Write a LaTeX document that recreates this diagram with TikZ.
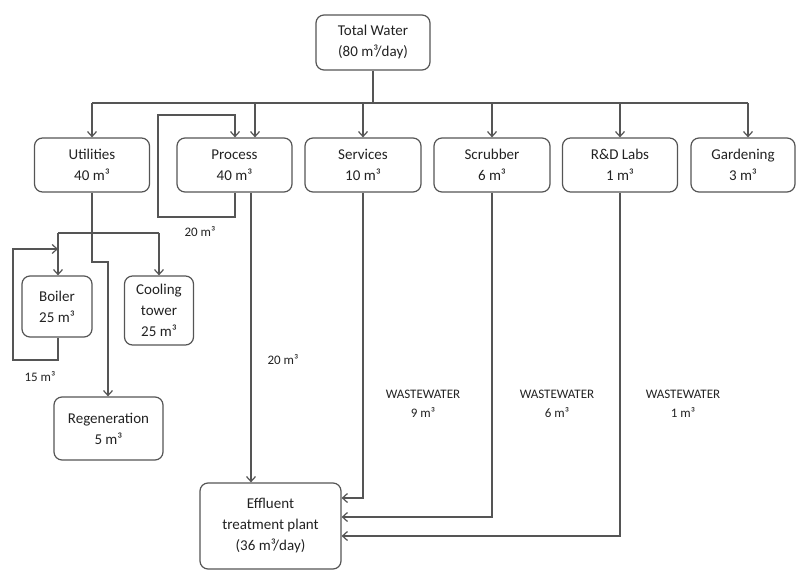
\documentclass[tikz,border=0pt]{standalone}
\usepackage{fontspec}
\setmainfont{Carlito}
\usetikzlibrary{arrows.meta}

\definecolor{linegray}{HTML}{555555}
\definecolor{textgray}{HTML}{222222}

\begin{document}
\begin{tikzpicture}[x=1pt, y=-1pt,
  box/.style={draw=linegray, rounded corners=8pt, line width=1.2pt, align=center,
    font=\fontsize{15}{21}\selectfont, text=textgray, inner sep=0pt},
  pipe/.style={draw=linegray, line width=1.2pt},
  flow/.style={pipe, -{Straight Barb[length=5pt,width=9pt]}},
  tag/.style={align=center, font=\fontsize{13}{19}\selectfont, text=textgray}]
      \useasboundingbox (0,0) rectangle (796,572);

      % boxes
      \node [box, minimum width=114, minimum height=55] (total) at (373,42.5) {Total Water\\(80 m³/day)};
      \node [box, minimum width=115, minimum height=54] (util) at (92,165) {Utilities\\40 m³};
      \node [box, minimum width=115, minimum height=54] (proc) at (234.5,165) {Process\\40 m³};
      \node [box, minimum width=116, minimum height=54] (serv) at (363,165) {Services\\10 m³};
      \node [box, minimum width=116, minimum height=54] (scrub) at (492,165) {Scrubber\\6 m³};
      \node [box, minimum width=115, minimum height=54] (rnd) at (620,165) {R\&D Labs\\1 m³};
      \node [box, minimum width=104, minimum height=54] (garden) at (743,165) {Gardening\\3 m³};
      \node [box, minimum width=70, minimum height=61] (boiler) at (57,306.5) {Boiler\\25 m³};
      \node [box, minimum width=69, minimum height=69] (cool) at (159,310.5) {Cooling\\tower\\25 m³};
      \node [box, minimum width=109, minimum height=63] (regen) at (108.5,428.5) {Regeneration\\5 m³};
      \node [box, minimum width=141, minimum height=86] (etp) at (270.5,526) {Effluent\\treatment plant\\(36 m³/day)};

      % supply
      \coordinate (busL) at (92,103);
      \coordinate (busR) at (748,103);
      \coordinate (procIn) at (255,103);
      \draw [pipe] (total.south) -- (total.south |- busL);
      \draw [pipe] (busL) -- (busR);
      \draw [flow] (busL) -- (busL |- util.north);
      \draw [flow] (procIn) -- (procIn |- proc.north);
      \draw [flow] (serv.north |- busL) -- (serv.north);
      \draw [flow] (scrub.north |- busL) -- (scrub.north);
      \draw [flow] (rnd.north |- busL) -- (rnd.north);
      \draw [flow] (busR) -- (busR |- garden.north);

      % process recycle
      \coordinate (loopA) at (235,217);
      \coordinate (loopB) at (158,115);
      \draw [flow] (loopA |- proc.south) -- (loopA) -- (loopB |- loopA) -- (loopB)
            -- (loopA |- loopB) -- (loopA |- proc.north);
      \node [tag] (recyc) at (200,232) {20 m³};

      \coordinate (procOut) at (251,192);
      \draw [flow] (procOut |- proc.south) -- (procOut |- etp.north);
      \node [tag] (procw) at (283,360) {20 m³};

      % utilities
      \coordinate (utilJog) at (108,262);
      \draw [flow] (util.south) -- (util.south |- utilJog) -- (utilJog) -- (utilJog |- regen.north);
      \coordinate (splitL) at (58,233);
      \coordinate (splitR) at (159,233);
      \draw [pipe] (splitL) -- (splitR);
      \draw [flow] (splitL) -- (splitL |- boiler.north);
      \draw [flow] (splitR) -- (splitR |- cool.north);

      \coordinate (blrLoop) at (13,360);
      \coordinate (blrIn) at (58,249);
      \draw [flow] (blrIn |- boiler.south) -- (blrIn |- blrLoop) -- (blrLoop)
            -- (blrLoop |- blrIn) -- (blrIn);
      \node [tag] (blrw) at (40,377) {15 m³};

      % wastewater
      \coordinate (servOut) at (363,498);
      \coordinate (scrubOut) at (492,517);
      \coordinate (rndOut) at (620,536);
      \draw [flow] (serv.south) -- (servOut) -- (servOut -| etp.east);
      \draw [flow] (scrub.south) -- (scrubOut) -- (scrubOut -| etp.east);
      \draw [flow] (rnd.south) -- (rndOut) -- (rndOut -| etp.east);

      \node [tag] (servw) at (423,404) {WASTEWATER\\9 m³};
      \node [tag] (scrubw) at (557,404) {WASTEWATER\\6 m³};
      \node [tag] (rndw) at (683,404) {WASTEWATER\\1 m³};
\end{tikzpicture}
\end{document}
